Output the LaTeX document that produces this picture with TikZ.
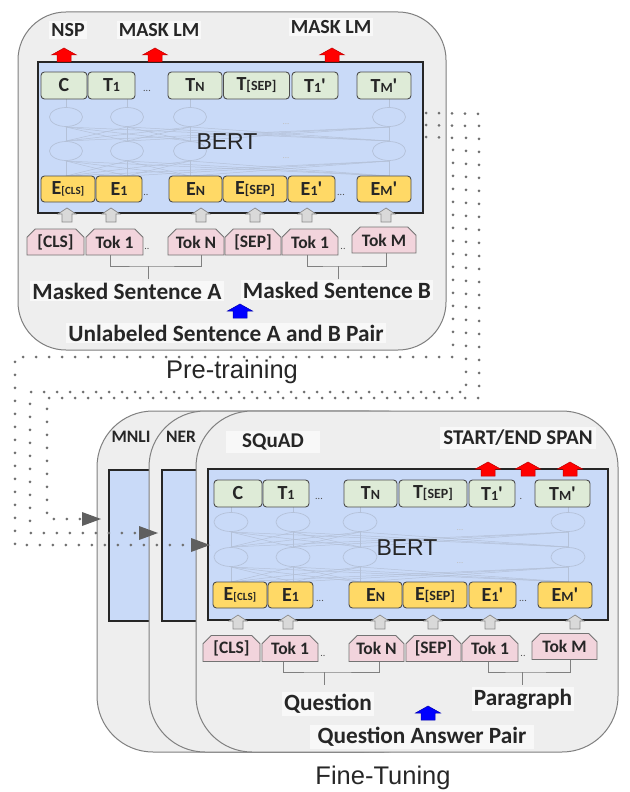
\documentclass[tikz,border=0pt]{standalone}
\usepackage{fontspec}
\setmainfont{Carlito}
\newfontfamily\arialfont{Liberation Sans}
\usetikzlibrary{shapes.misc,arrows.meta}

\definecolor{panelfill}{HTML}{EEEEEE}
\definecolor{panelline}{HTML}{7F7F7F}
\definecolor{bertblue}{HTML}{C9DAF8}
\definecolor{outgreen}{HTML}{DEEBD7}
\definecolor{embyellow}{HTML}{FFD966}
\definecolor{tokpink}{HTML}{F2D4DC}
\definecolor{arrowgray}{HTML}{D9D9D9}
\definecolor{dotgray}{HTML}{707070}
\definecolor{netgray}{HTML}{B4C1D8}

\newcommand\subsz[1]{{\fontsize{14}{14}\selectfont #1}}
\newcommand\subxs[1]{{\fontsize{11}{11}\selectfont #1}}
\newcommand\prm{\textquotesingle}

\tikzset{
  panel/.style={draw=panelline,fill=panelfill,line width=1pt,rounded corners=48pt},
  taskpanel/.style={panel,rounded corners=56pt},
  bertbox/.style={draw=black!85,fill=bertblue,line width=2pt,inner sep=0pt},
  tokbase/.style={inner sep=0pt,line width=0.9pt,draw=black!70,text=black!85},
  outtok/.style={tokbase,fill=outgreen,rounded corners=3.5pt,minimum height=27pt,
    font=\fontsize{20}{20}\selectfont\bfseries},
  embtok/.style={tokbase,fill=embyellow,rounded corners=3.5pt,minimum height=26pt,
    font=\fontsize{20}{20}\selectfont\bfseries},
  intok/.style={tokbase,draw=black!55,fill=tokpink,chamfered rectangle,
    chamfered rectangle corners={north west,north east},chamfered rectangle xsep=5pt,
    minimum height=26pt,font=\fontsize{17.5}{17.5}\selectfont\bfseries},
  gapdots/.style={inner sep=0pt,font=\fontsize{10}{10}\selectfont,text=black!70},
  netdots/.style={inner sep=0pt,font=\fontsize{9}{9}\selectfont,text=black!25},
  headlab/.style={font=\fontsize{20}{20}\selectfont\bfseries,text=black!85,
    fill=panelfill!40!white,inner sep=2pt},
  tasklab/.style={font=\fontsize{21}{21}\selectfont\bfseries,text=black!85,
    fill=panelfill!40!white,inner sep=3pt},
  panelname/.style={font=\fontsize{17.5}{17.5}\selectfont\bfseries,text=black!85,inner sep=1pt},
  seqlab/.style={font=\fontsize{23.3}{23.3}\selectfont\bfseries,text=black!85,
    fill=panelfill!40!white,inner sep=2pt},
  bertlab/.style={font=\arialfont\fontsize{23}{23}\selectfont,text=black!85,inner sep=0pt},
  phaselab/.style={font=\arialfont\fontsize{25.5}{25.5}\selectfont,text=black!85,inner sep=0pt},
  bracket/.style={draw=black!50,line width=0.9pt},
  netline/.style={draw=netgray,line width=0.5pt},
  netell/.style={draw=netgray,line width=0.7pt},
  dotpath/.style={draw=dotgray,line width=3pt,line cap=round,dash pattern=on 0pt off 13pt,
    -{Triangle[length=19pt,width=14pt,fill=dotgray!85!black,line width=0pt]}},
  bigup/.pic={\path[pic actions] (-7,0) -- (-7,-7) -- (-12.5,-7) -- (0,-14) -- (12.5,-7)
    -- (7,-7) -- (7,0) -- cycle;},
  smallup/.pic={\path[pic actions] (-5,0) -- (-5,-8) -- (-9,-8) -- (0,-14) -- (9,-8)
    -- (5,-8) -- (5,0) -- cycle;},
  redhead/.style={fill=red,draw=red!75!black,line width=0.5pt},
  bluehead/.style={fill=blue,draw=blue!70!black,line width=0.5pt},
  grayhead/.style={fill=arrowgray,draw=black!45,line width=0.7pt},
}

\begin{document}
\begin{tikzpicture}[x=1pt,y=-1pt]
\useasboundingbox (0,0) rectangle (629,792);

% ---------------- Pre-training ----------------
\draw[panel] (18,12) rectangle (446,350);
\node[bertbox,minimum width=385pt,minimum height=151pt] (bertP) at (230.5,137.5) {};

% faint transformer layers
\foreach \c in {66,127,190,389} {
  \draw[netline] (\c,99) -- (\c,176);
  \foreach \d in {66,127,190,389} {
    \draw[netline] (\c,127) -- (\d,141);
    \draw[netline] (\c,161) -- (\d,176);
  }
}
\foreach \c in {66,127,190,389} {
  \draw[netell,fill=bertblue] (\c,117) ellipse (16.5 and 9.5);
  \draw[netell,fill=bertblue] (\c,151) ellipse (16.5 and 9.5);
}
\node[netdots] (pnd1) at (286,124) {...};
\node[netdots] (pnd2) at (286,158) {...};
\node[bertlab] (pbert) at (227,142) {BERT};

% output tokens
\node[outtok,minimum width=46pt] (pC)   at (64,85.5)    {C};
\node[outtok,minimum width=47pt] (pT1)  at (111.5,85.5) {T\subsz{1}};
\node[outtok,minimum width=54pt] (pTN)  at (195,85.5)   {T\subsz{N}};
\node[outtok,minimum width=66pt] (pTS)  at (256.5,85.5) {T\subsz{[SEP]}};
\node[outtok,minimum width=46pt] (pT1b) at (315,85.5)   {T\subsz{1}\prm};
\node[outtok,minimum width=54pt] (pTM)  at (384,85.5)   {T\subsz{M}\prm};
\node[gapdots] (pgd1) at (147,91) {...};

% embeddings
\node[embtok,minimum width=54pt] (pE)   at (68,189)    {E\subxs{[CLS]}};
\node[embtok,minimum width=46pt] (pE1)  at (119,189)   {E\subsz{1}};
\node[embtok,minimum width=53pt] (pEN)  at (195.5,189) {E\subsz{N}};
\node[embtok,minimum width=64pt] (pES)  at (255,189)   {E\subsz{[SEP]}};
\node[embtok,minimum width=47pt] (pE1b) at (311.5,189) {E\subsz{1}\prm};
\node[embtok,minimum width=54pt] (pEM)  at (384,189)   {E\subsz{M}\prm};
\node[gapdots] (pgd2) at (146,195) {..};
\node[gapdots] (pgd3) at (341,195) {...};

% input arrows
\foreach \x in {67,111,201,255,307,386} \pic[grayhead] at (\x,222) {smallup};

% input tokens
\node[intok,minimum width=57pt] (pK)   at (55.5,242) {[CLS]};
\node[intok,minimum width=57pt] (pK1)  at (114.5,242) {Tok 1};
\node[intok,minimum width=56pt] (pKN)  at (196,242) {Tok N};
\node[intok,minimum width=56pt] (pKS)  at (253,242) {[SEP]};
\node[intok,minimum width=56pt] (pK1b) at (310,242) {Tok 1};
\node[intok,minimum width=64pt] (pKM)  at (384,240) {Tok M};
\node[gapdots] (pgd4) at (147,249) {..};
\node[gapdots] (pgd5) at (343,249) {..};

% sentence brackets
\coordinate (pbA) at (148,279);
\coordinate (pbB) at (338,279);
\draw[bracket] ([xshift=-4pt]pK1.south) |- (148,266) -| ([xshift=5pt]pKN.south);
\draw[bracket] (148,266) -- (pbA);
\draw[bracket] ([xshift=-3pt]pK1b.south) |- (338,266) -| ([xshift=2pt]pKM.south);
\draw[bracket] (338,266) -- (pbB);

\node[seqlab] (pSA) at (127,291) {Masked Sentence A};
\node[seqlab] (pSB) at (337,290) {Masked Sentence B};
\pic[bluehead] at (240,318) {bigup};
\node[seqlab] (pPair) at (226,333) {Unlabeled Sentence A and B Pair};

% pre-training heads
\foreach \x in {64,155,332} \pic[redhead] at (\x,62) {bigup};
\node[headlab] (pNSP) at (68,30) {NSP};
\node[headlab] (pMLM) at (159,30) {MASK LM};
\node[headlab] (pMLMb) at (331,27) {MASK LM};

\node[phaselab] (preLab) at (232,372) {Pre-training};

% ---------------- Fine-Tuning ----------------
% MNLI
\draw[taskpanel] (97,411) rectangle (420,752);
\node[bertbox,anchor=north west,minimum width=200pt,minimum height=151pt] (bertM) at (108,469) {};
\node[panelname] (labM) at (131,437) {MNLI};
% NER
\draw[taskpanel] (149,411) rectangle (440,752);
\node[bertbox,anchor=north west,minimum width=200pt,minimum height=151pt] (bertN) at (161,469) {};
\node[panelname] (labN) at (181,437) {NER};
% SQuAD
\draw[taskpanel] (196,411) rectangle (618,752);
\node[bertbox,minimum width=400pt,minimum height=151pt] (bertS) at (408,544.5) {};

\foreach \c in {231,293,360,568} {
  \draw[netline] (\c,507) -- (\c,582);
  \foreach \d in {231,293,360,568} {
    \draw[netline] (\c,532) -- (\d,547);
    \draw[netline] (\c,567) -- (\d,582);
  }
}
\foreach \c in {231,293,360,568} {
  \draw[netell,fill=bertblue] (\c,522) ellipse (17 and 9.5);
  \draw[netell,fill=bertblue] (\c,557) ellipse (17 and 9.5);
}
\node[netdots] (fnd1) at (460,530) {...};
\node[netdots] (fnd2) at (460,563) {...};
\node[bertlab] (fbert) at (407,548) {BERT};

\node[outtok,minimum width=48pt] (fC)   at (238,493.5)   {C};
\node[outtok,minimum width=46pt] (fT1)  at (286,493.5)   {T\subsz{1}};
\node[outtok,minimum width=53pt] (fTN)  at (370.5,493.5) {T\subsz{N}};
\node[outtok,minimum width=68pt] (fTS)  at (433,493.5)   {T\subsz{[SEP]}};
\node[outtok,minimum width=46pt] (fT1b) at (492,493.5)   {T\subsz{1}\prm};
\node[outtok,minimum width=55pt] (fTM)  at (562.5,493.5) {T\subsz{M}\prm};
\node[gapdots] (fgd1) at (319,499) {...};
\node[gapdots] (fgd2) at (521,499) {.};

\node[embtok,minimum width=54pt] (fE)   at (240,595)   {E\subxs{[CLS]}};
\node[embtok,minimum width=45pt] (fE1)  at (290.5,595) {E\subsz{1}};
\node[embtok,minimum width=53pt] (fEN)  at (375.5,595) {E\subsz{N}};
\node[embtok,minimum width=64pt] (fES)  at (435,595)   {E\subsz{[SEP]}};
\node[embtok,minimum width=47pt] (fE1b) at (492.5,595) {E\subsz{1}\prm};
\node[embtok,minimum width=54pt] (fEM)  at (565,595)   {E\subsz{M}\prm};
\node[gapdots] (fgd3) at (320,601) {...};
\node[gapdots] (fgd4) at (523,601) {...};

\foreach \x in {238,288,380,433,490,575} \pic[grayhead] at (\x,629) {smallup};

\node[intok,minimum width=57pt] (fK)   at (231.5,648.5) {[CLS]};
\node[intok,minimum width=56pt] (fK1)  at (290,648.5)   {Tok 1};
\node[intok,minimum width=55pt] (fKN)  at (376.5,648.5) {Tok N};
\node[intok,minimum width=55pt] (fKS)  at (433.5,648.5) {[SEP]};
\node[intok,minimum width=56pt] (fK1b) at (490,648.5)   {Tok 1};
\node[intok,minimum width=65pt] (fKM)  at (564.5,646.5) {Tok M};
\node[gapdots] (fgd5) at (323,656) {..};
\node[gapdots] (fgd6) at (523,656) {..};

\coordinate (fbA) at (324,685);
\coordinate (fbB) at (522,685);
\draw[bracket] ([xshift=-7pt]fK1.south) |- (324,672) -| ([xshift=2.5pt]fKN.south);
\draw[bracket] (324,672) -- (fbA);
\draw[bracket] ([xshift=-2pt]fK1b.south) |- (522,672) -| ([xshift=5.5pt]fKM.south);
\draw[bracket] (522,672) -- (fbB);

\node[seqlab] (fQ) at (328,704) {Question};
\node[seqlab] (fP) at (523,699) {Paragraph};
\pic[bluehead] at (428,720) {bigup};
\node[seqlab,inner xsep=8pt] (fPair) at (422,737) {Question Answer Pair};

\foreach \x in {488,528,570} \pic[redhead] at (\x,476) {bigup};
\node[tasklab,inner xsep=16pt] (labS) at (273,442) {SQuAD};
\node[tasklab] (labSpan) at (518,438) {START/END SPAN};

\node[phaselab] (fineLab) at (383,778) {Fine-Tuning};

% ---------------- transfer of pre-trained parameters ----------------
\coordinate (tgtM) at (101,519);
\coordinate (tgtN) at (158,533);
\coordinate (tgtS) at (210,545);
\draw[dotpath] ([xshift=2pt,yshift=-52pt]bertP.north east) -- (479,114) -- (479,398)
  -- (47,398) -- (47,519) -- (tgtM);
\draw[dotpath] ([xshift=2pt,yshift=-64pt]bertP.north east) -- (466,126) -- (466,392)
  -- (30,392) -- (30,533) -- (tgtN);
\draw[dotpath] ([xshift=2pt,yshift=-76pt]bertP.north east) -- (453,138) -- (453,357)
  -- (15,357) -- (15,545) -- (tgtS);
\end{tikzpicture}
\end{document}
